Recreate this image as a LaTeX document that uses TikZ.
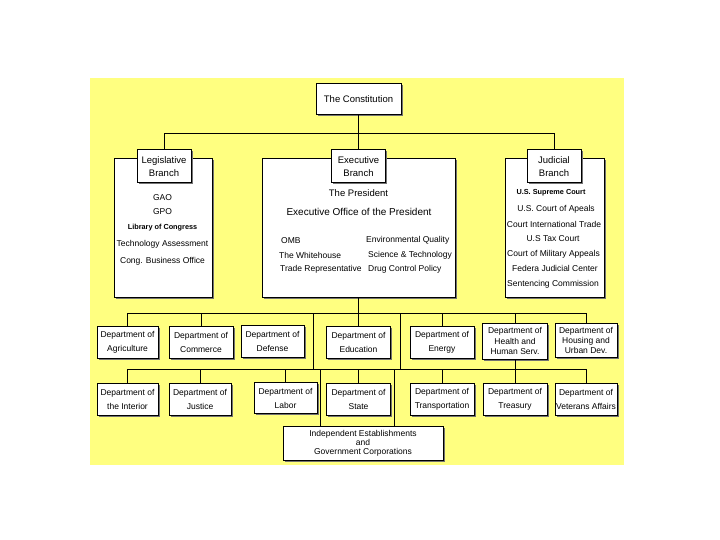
\documentclass[tikz,border=0pt]{standalone}
\usepackage{fontspec}
\setmainfont{Liberation Sans}
\usetikzlibrary{shadows}
\definecolor{bgyellow}{RGB}{255,255,128}
\begin{document}
\begin{tikzpicture}[x=1pt,y=-1pt,
  box/.style={draw=black, line width=1pt, fill=white, inner sep=0pt, align=center,
    drop shadow={shadow xshift=1.5pt, shadow yshift=-1.5pt, fill=black!55, opacity=1}},
  conn/.style={draw=black, line width=1pt},
  lbl/.style={box, minimum width=54pt, minimum height=33pt, font=\fontsize{9.5}{12.5}\selectfont},
  dept/.style={box, minimum height=32pt, font=\fontsize{8.5}{14}\selectfont},
  item/.style={inner sep=0pt, font=\fontsize{8.5}{10}\selectfont},
  small/.style={inner sep=0pt, font=\fontsize{7.3}{9}\selectfont\bfseries},
  big/.style={inner sep=0pt, font=\fontsize{10}{12}\selectfont},
  mid/.style={inner sep=0pt, font=\fontsize{9.5}{12}\selectfont}
]
\useasboundingbox (0,0) rectangle (720,540);
\fill[bgyellow] (90,78) rectangle (624,465);

% top
\node[box, minimum width=85pt, minimum height=31pt, font=\fontsize{9.5}{12}\selectfont] (const) at (358.5,99.5) {The Constitution};

% branch outer boxes
\node[box, minimum width=98pt, minimum height=138pt] (leg) at (163,228) {};
\node[box, minimum width=193pt, minimum height=138pt] (exec) at (358.5,228) {};
\node[box, minimum width=99pt, minimum height=138pt] (jud) at (554.5,228) {};

\node[lbl] (leglab) at (164,166.5) {Legislative\\Branch};
\node[lbl] (execlab) at (358.5,166.5) {Executive\\Branch};
\node[lbl] (judlab) at (554,166.5) {Judicial\\Branch};

% legislative contents
\node[item] (gao) at (162.5,198) {GAO};
\node[item] (gpo) at (162.5,212) {GPO};
\node[small] (loc) at (162.5,228) {Library of Congress};
\node[item] (ta) at (162.5,244) {Technology Assessment};
\node[item] (cbo) at (162.5,261) {Cong. Business Office};

% executive contents
\node[mid] (pres) at (358.5,193.5) {The President};
\node[big] (eop) at (359,211.5) {Executive Office of the President};
\node[item, anchor=west] (omb) at (281,240.5) {OMB};
\node[item, anchor=west] (wh) at (279,255) {The Whitehouse};
\node[item, anchor=west] (tr) at (280,269) {Trade Representative};
\node[item, anchor=west] (eq) at (366,240.5) {Environmental Quality};
\node[item, anchor=west] (st) at (368,255) {Science \& Technology};
\node[item, anchor=west] (dcp) at (368,269) {Drug Control Policy};

% judicial contents
\node[small] (sc) at (551,193) {U.S. Supreme Court};
\node[item] (ca) at (556,209) {U.S. Court of Apeals};
\node[item] (cit) at (554,224) {Court International Trade};
\node[item] (tc) at (553,239) {U.S Tax Court};
\node[item] (cma) at (553.5,254) {Court of Military Appeals};
\node[item] (fjc) at (555,268.5) {Federa Judicial Center};
\node[item] (sent) at (553,284) {Sentencing Commission};

% row 1 departments
\node[dept, minimum width=61pt] (agri) at (127.5,342) {Department of\\Agriculture};
\node[dept, minimum width=64pt] (comm) at (201,342) {Department of\\Commerce};
\node[dept, minimum width=63pt] (def) at (272.5,341) {Department of\\Defense};
\node[dept, minimum width=64pt] (edu) at (358.5,342) {Department of\\Education};
\node[dept, minimum width=64pt] (energy) at (442,342) {Department of\\Energy};
\node[dept, minimum width=65pt, minimum height=36pt, font=\fontsize{8.5}{10.5}\selectfont] (health) at (515,341) {Department of\\Health and\\Human Serv.};
\node[dept, minimum width=62pt, minimum height=34pt, font=\fontsize{8.5}{10}\selectfont] (housing) at (586,340) {Department of\\Housing and\\Urban Dev.};

% row 2 departments
\node[dept, minimum width=61pt] (interior) at (127.5,399) {Department of\\the Interior};
\node[dept, minimum width=62pt] (justice) at (200,399) {Department of\\Justice};
\node[dept, minimum width=63pt, minimum height=31pt] (labor) at (285.5,398) {Department of\\Labor};
\node[dept, minimum width=64pt] (state) at (358.5,399) {Department of\\State};
\node[dept, minimum width=64pt] (transp) at (442,399) {Department of\\Transportation};
\node[dept, minimum width=64pt] (treas) at (515,399) {Department of\\Treasury};
\node[dept, minimum width=62pt] (vet) at (586,399) {Department of\\Veterans Affairs};

\node[box, minimum width=160pt, minimum height=34pt, font=\fontsize{8.5}{9}\selectfont] (indep) at (363,443) {Independent Establishments\\and\\Government Corporations};

% buses
\coordinate (bus1) at (0,134);
\coordinate (bus2) at (0,313);
\coordinate (bus3) at (0,369);
\coordinate (la) at (313,313);
\coordinate (lb) at (400,313);
\coordinate (lc) at (320,369);
\coordinate (ld) at (394,369);

\draw[conn] (const.south) -- (execlab.north);
\draw[conn] (leglab.north) -- (leglab.north |- bus1) -- (judlab.north |- bus1) -- (judlab.north);

\draw[conn] (exec.south) -- (edu.north);
\draw[conn] (agri.north) -- (agri.north |- bus2) -- (housing.north |- bus2) -- (housing.north);
\draw[conn] (comm.north) -- (comm.north |- bus2);
\draw[conn] (energy.north) -- (energy.north |- bus2);
\draw[conn] (health.north) -- (health.north |- bus2);
\draw[conn] (la) -- (la |- bus3);
\draw[conn] (lb) -- (lb |- bus3);

\draw[conn] (interior.north) -- (interior.north |- bus3) -- (vet.north |- bus3) -- (vet.north);
\draw[conn] (justice.north) -- (justice.north |- bus3);
\draw[conn] (labor.north) -- (labor.north |- bus3);
\draw[conn] (state.north) -- (state.north |- bus3);
\draw[conn] (transp.north) -- (transp.north |- bus3);
\draw[conn] (health.south) -- (treas.north);
\draw[conn] (lc) -- (lc |- indep.north);
\draw[conn] (ld) -- (ld |- indep.north);
\end{tikzpicture}
\end{document}
